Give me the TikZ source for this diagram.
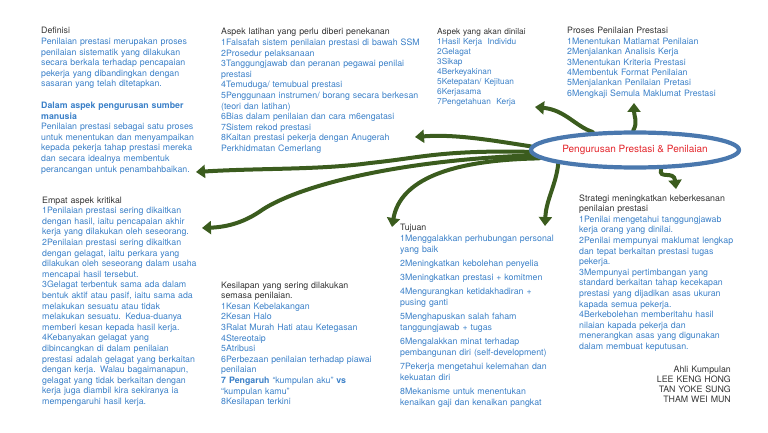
\documentclass[tikz,border=0pt]{standalone}
\usepackage{fontspec}
\setmainfont{TeX Gyre Heros}
\usepackage{xcolor}
\usepackage{tikz}
\usetikzlibrary{arrows.meta,shapes.geometric,backgrounds}
\definecolor{itemblue}{HTML}{3B80C8}
\definecolor{headgray}{HTML}{333333}
\definecolor{ringblue}{HTML}{4A78AE}
\definecolor{corered}{HTML}{E4262C}
\definecolor{branchgreen}{HTML}{3B5C1E}
\newcommand{\headline}[1]{\textcolor{headgray}{#1}}
\tikzset{
  block/.style={anchor=base west, align=left, inner sep=0pt, text=itemblue, font=\fontsize{8.8}{10.6}\selectfont},
  smallblock/.style={block, font=\fontsize{8.3}{10}\selectfont},
  core/.style={draw=ringblue, line width=4.2pt, ellipse, fill=white, minimum width=208pt, minimum height=35pt, inner sep=0pt, text=corered, font=\fontsize{10}{12}\selectfont},
  branch/.style={draw=branchgreen, line width=4pt, line cap=round, -{Triangle[length=9pt,width=13pt]}}
}

\begin{document}
\begin{tikzpicture}[x=1pt,y=-1pt]
  \useasboundingbox (0,0) rectangle (768,433);

  \node[core] (core) at (635,150) {Pengurusan Prestasi \& Penilaian};

  \node[block, text width=170pt] (definisi) at (41,34) {\headline{Definisi}\\
    Penilaian prestasi merupakan proses\\
    penilaian sistematik yang dilakukan\\
    secara berkala terhadap pencapaian\\
    pekerja yang dibandingkan dengan\\
    sasaran yang telah ditetapkan.\\[11pt]
    \textbf{Dalam aspek pengurusan sumber}\\
    \textbf{manusia}\\
    Penilaian prestasi sebagai satu proses\\
    untuk menentukan dan menyampaikan\\
    kepada pekerja tahap prestasi mereka\\
    dan secara idealnya membentuk\\
    perancangan untuk penambahbaikan.};

  \node[block, text width=210pt] (latihan) at (221,35) {\headline{Aspek latihan yang perlu diberi penekanan}\\
    1Falsafah sistem penilaian prestasi di bawah SSM\\
    2Prosedur pelaksanaan\\
    3Tanggungjawab dan peranan pegawai penilai\\
    prestasi\\
    4Temuduga/ temubual prestasi\\
    5Penggunaan instrumen/ borang secara berkesan\\
    (teori dan latihan)\\
    6Bias dalam penilaian dan cara m6engatasi\\
    7Sistem rekod prestasi\\
    8Kaitan prestasi pekerja dengan Anugerah\\
    Perkhidmatan Cemerlang};

  \node[smallblock, text width=110pt] (dinilai) at (437,35) {\headline{Aspek yang akan dinilai}\\
    1Hasil Kerja\ \ Individu\\
    2Gelagat\\
    3Sikap\\
    4Berkeyakinan\\
    5Ketepatan/ Kejituan\\
    6Kerjasama\\
    7Pengetahuan\ \ Kerja};

  \node[block, text width=165pt, font=\fontsize{8.8}{10.4}\selectfont] (proses) at (567,34) {\headline{Proses Penilaian Prestasi}\\
    1Menentukan Matlamat Penilaian\\
    2Menjalankan Analisis Kerja\\
    3Menentukan Kriteria Prestasi\\
    4Membentuk Format Penilaian\\
    5Menjalankan Penilaian Pretasi\\
    6Mengkaji Semula Maklumat Prestasi};

  \node[block, text width=170pt] (empat) at (42,203) {\headline{Empat aspek kritikal}\\
    1Penilaian prestasi sering dikaitkan\\
    dengan hasil, iaitu pencapaian akhir\\
    kerja yang dilakukan oleh seseorang.\\
    2Penilaian prestasi sering dikaitkan\\
    dengan gelagat, iaitu perkara yang\\
    dilakukan oleh seseorang dalam usaha\\
    mencapai hasil tersebut.\\
    3Gelagat terbentuk sama ada dalam\\
    bentuk aktif atau pasif, iaitu sama ada\\
    melakukan sesuatu atau tidak\\
    melakukan sesuatu. Kedua-duanya\\
    memberi kesan kepada hasil kerja.\\
    4Kebanyakan gelagat yang\\
    dibincangkan di dalam penilaian\\
    prestasi adalah gelagat yang berkaitan\\
    dengan kerja. Walau bagaimanapun,\\
    gelagat yang tidak berkaitan dengan\\
    kerja juga diambil kira sekiranya ia\\
    mempengaruhi hasil kerja.};

  \node[block, text width=170pt] (kesilapan) at (221,288) {\headline{Kesilapan yang sering dilakukan}\\
    \headline{semasa penilaian.}\\
    1Kesan Kebelakangan\\
    2Kesan Halo\\
    3Ralat Murah Hati atau Ketegasan\\
    4Stereotaip\\
    5Atribusi\\
    6Perbezaan penilaian terhadap piawai\\
    penilaian\\
    \textbf{7 Pengaruh} “kumpulan aku” \textbf{vs}\\
    “kumpulan kamu”\\
    8Kesilapan terkini};

  \node[block, text width=172pt, font=\fontsize{8.8}{11}\selectfont] (tujuan) at (400,230) {\headline{Tujuan}\\
    1Menggalakkan perhubungan personal\\
    yang baik\\[3pt]
    2Meningkatkan kebolehan penyelia\\[3pt]
    3Meningkatkan prestasi + komitmen\\[3pt]
    4Mengurangkan ketidakhadiran +\\
    pusing ganti\\[3pt]
    5Menghapuskan salah faham\\
    tanggungjawab + tugas\\[3pt]
    6Mengalakkan minat terhadap\\
    pembangunan diri (self-development)\\[3pt]
    7Pekerja mengetahui kelemahan dan\\
    kekuatan diri\\[3pt]
    8Mekanisme untuk menentukan\\
    kenaikan gaji dan kenaikan pangkat};

  \node[block, text width=180pt] (strategi) at (579,201) {\headline{Strategi meningkatkan keberkesanan}\\
    \headline{penilaian prestasi}\\
    1Penilai mengetahui tanggungjawab\\
    kerja orang yang dinilai.\\
    2Penilai mempunyai maklumat lengkap\\
    dan tepat berkaitan prestasi tugas\\
    pekerja.\\
    3Mempunyai pertimbangan yang\\
    standard berkaitan tahap kecekapan\\
    prestasi yang dijadikan asas ukuran\\
    kapada semua pekerja.\\
    4Berkebolehan memberitahu hasil\\
    nilaian kapada pekerja dan\\
    menerangkan asas yang digunakan\\
    dalam membuat keputusan.};

  \node[block, anchor=base east, align=right, text width=100pt, text=headgray, font=\fontsize{8.8}{10.3}\selectfont] (ahli) at (731,372) {Ahli Kumpulan\\
    LEE KENG HONG\\
    TAN YOKE SUNG\\
    THAM WEI MUN};

  % arrow ends
  \coordinate (tipDefinisi) at (196,172);
  \coordinate (tipLatihan) at (415,137);
  \coordinate (tipDinilai) at (535,107);
  \coordinate (tipProses) at (634,103);
  \coordinate (tipEmpat) at (202,228);
  \coordinate (tipKesilapan) at (392,227);
  \coordinate (tipTujuan) at (545,226);
  \coordinate (tipStrategi) at (676,189);

  \begin{scope}[on background layer]
    \draw[branch] (core.178) .. controls (490,140) and (455,134) .. (tipLatihan);
    \draw[branch] (core.181) .. controls (440,150) and (420,158) .. (370,163) .. controls (320,170) and (260,168) .. (tipDefinisi);
    \draw[branch] (core.183) .. controls (400,160) and (300,185) .. (262,210) .. controls (245,222) and (228,227) .. (tipEmpat);
    \draw[branch] (core.185) .. controls (450,160) and (400,180) .. (tipKesilapan);
    \draw[branch] (core.190) .. controls (556,185) and (546,200) .. (tipTujuan);
    \draw[branch] (core.324) .. controls (658,180) and (674,170) .. (tipStrategi);
    \draw[branch] (core.95) .. controls (638,122) and (634,116) .. (tipProses);
    \draw[branch] (core.157) .. controls (575,126) and (565,110) .. (tipDinilai);
  \end{scope}
\end{tikzpicture}
\end{document}
